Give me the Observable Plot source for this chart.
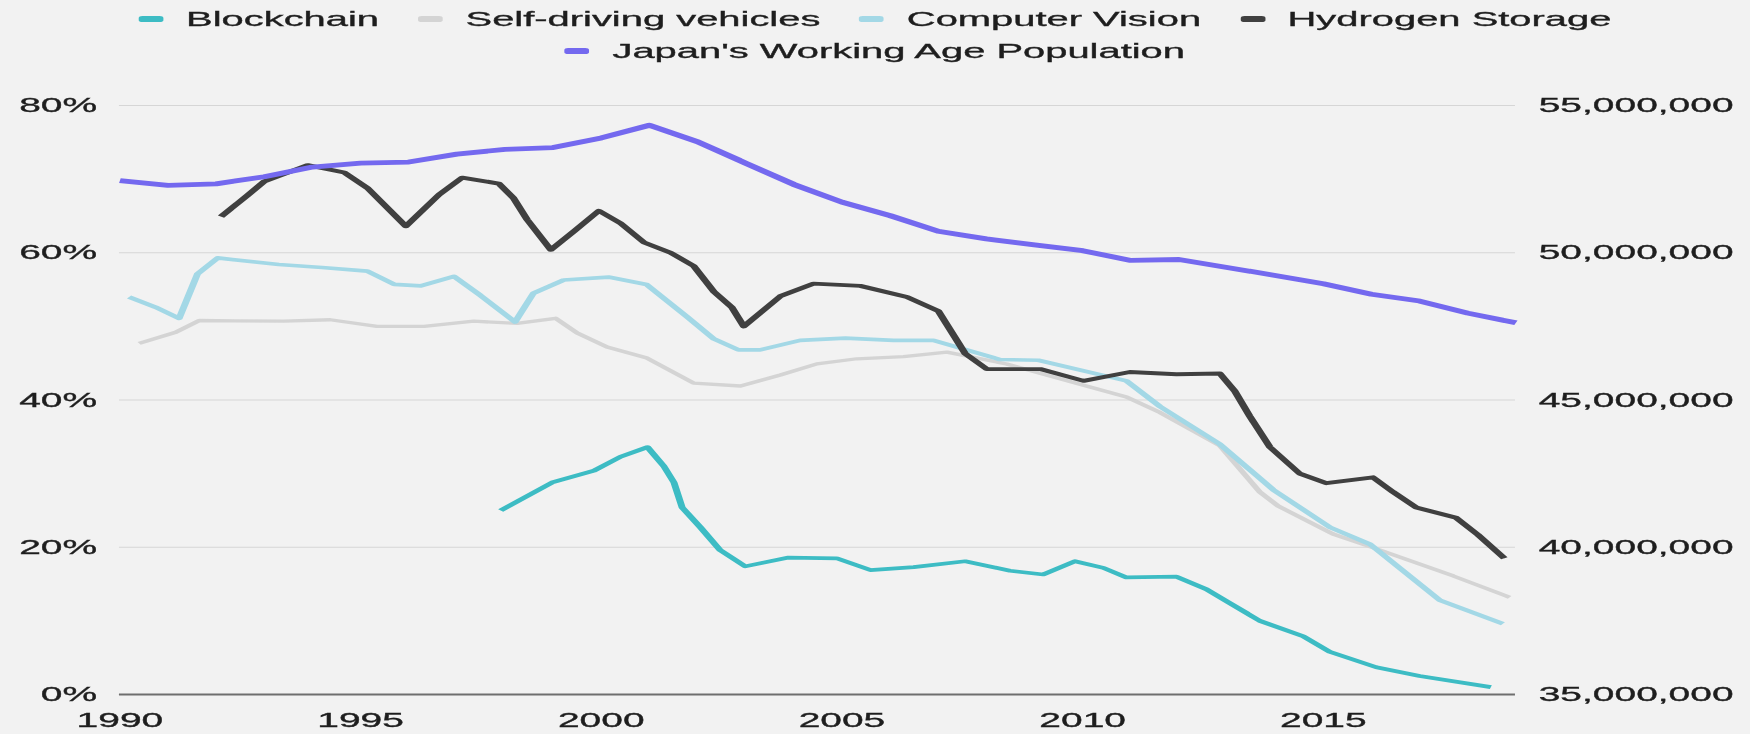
<!DOCTYPE html>
<html><head><meta charset="utf-8">
<script src="https://cdn.jsdelivr.net/npm/d3@7"></script>
<script src="https://cdn.jsdelivr.net/npm/@observablehq/plot@0.6"></script>
<style>
html,body{margin:0;padding:0;background:#f2f2f2;}
#wrap{width:921px;transform:scaleX(1.90011);transform-origin:0 0;font-family:"Liberation Sans",Arial,sans-serif;color:#1e1e1e;}
.legend{height:70px;box-sizing:border-box;padding-top:3px;}
.row{display:flex;justify-content:center;align-items:center;height:32px;font-size:21px;white-space:nowrap;-webkit-text-stroke:0.35px #1e1e1e;}
.item{display:flex;align-items:center;margin:0 10.25px;}
.sw{width:13px;height:6px;border-radius:2px;margin-right:12px;}
#chart svg text{stroke:#1e1e1e;stroke-width:0.35px;}
</style></head><body>
<div id="wrap"><div class="legend" id="legend"></div><div id="chart"></div></div>
<script>
// ---- data ----
const seriesNames = ["Blockchain", "Self-driving vehicles", "Computer Vision", "Hydrogen Storage", "Japan's Working Age Population"];
const seriesColors = ["#3dbcc4", "#d4d4d4", "#a3d8e6", "#404040", "#7469ef"];

const xTicks = [1990, 1995, 2000, 2005, 2010, 2015];
const yTicks = [0, 20, 40, 60, 80];
const popTicks = [35000000, 40000000, 45000000, 50000000, 55000000];

// [year, percent]
const blockchain = [
  [1997.91, 25.0], [1998.98, 28.8], [1999.85, 30.4], [2000.4, 32.3], [2000.96, 33.6],
  [2001.3, 31.0], [2001.51, 28.8], [2001.68, 25.4], [2002.06, 22.7], [2002.47, 19.6],
  [2002.99, 17.4], [2003.89, 18.6], [2004.89, 18.5], [2005.59, 16.9], [2006.49, 17.3],
  [2007.56, 18.1], [2008.49, 16.8], [2009.18, 16.3], [2009.84, 18.1], [2010.43, 17.2],
  [2010.91, 15.9], [2011.95, 16.0], [2012.57, 14.3], [2013.06, 12.4], [2013.68, 10.0],
  [2014.58, 7.9], [2015.13, 5.8], [2016.1, 3.7], [2017.0, 2.5], [2018.48, 1.0]
];
const selfDriving = [
  [1990.40, 47.7], [1991.16, 49.2], [1991.65, 50.8], [1993.41, 50.7], [1994.37, 50.9],
  [1995.34, 50.0], [1996.32, 50.0], [1997.35, 50.7], [1998.25, 50.4], [1999.05, 51.1],
  [1999.5, 49.1], [2000.12, 47.2], [2000.95, 45.7], [2001.92, 42.3], [2002.89, 41.9],
  [2003.72, 43.4], [2004.48, 44.9], [2005.31, 45.6], [2006.28, 45.9], [2007.18, 46.5],
  [2008.42, 44.9], [2010.02, 42.0], [2010.91, 40.4], [2011.61, 38.3], [2012.85, 33.8],
  [2013.68, 27.5], [2014.06, 25.6], [2015.2, 21.8], [2015.97, 20.1], [2017.7, 16.1],
  [2018.87, 13.2]
];
const computerVision = [
  [1990.19, 54.0], [1990.74, 52.6], [1991.23, 51.1], [1991.61, 57.1], [1992.03, 59.3],
  [1993.3, 58.4], [1994.2, 58.0], [1995.14, 57.5], [1995.7, 55.7], [1996.25, 55.5],
  [1996.94, 56.8], [1997.49, 54.2], [1998.21, 50.6], [1998.59, 54.5], [1999.22, 56.3],
  [2000.15, 56.7], [2000.94, 55.7], [2001.78, 51.3], [2002.34, 48.3], [2002.85, 46.8],
  [2003.3, 46.8], [2004.13, 48.1], [2005.07, 48.4], [2006.07, 48.1], [2006.9, 48.1],
  [2008.28, 45.5], [2009.08, 45.4], [2010.91, 42.6], [2011.61, 39.1], [2012.85, 34.0],
  [2013.96, 27.8], [2015.14, 22.7], [2015.97, 20.4], [2017.42, 12.8], [2018.73, 9.6]
];
const hydrogen = [
  [1992.1, 64.9], [1992.65, 67.8], [1993.0, 69.7], [1993.9, 71.9], [1994.66, 70.9],
  [1995.14, 68.8], [1995.94, 63.6], [1996.63, 67.9], [1997.11, 70.2], [1997.87, 69.4],
  [1998.18, 67.4], [1998.46, 64.5], [1998.95, 60.4], [1999.43, 62.9], [1999.95, 65.7],
  [2000.40, 64.0], [2000.89, 61.4], [2001.44, 60.0], [2001.92, 58.2], [2002.34, 54.7],
  [2002.71, 52.6], [2002.96, 50.0], [2003.72, 54.1], [2004.41, 55.8], [2005.38, 55.5],
  [2006.35, 54.0], [2007.0, 52.1], [2007.56, 46.3], [2008.01, 44.2], [2009.12, 44.2],
  [2010.02, 42.6], [2010.98, 43.8], [2011.95, 43.5], [2012.85, 43.6], [2013.16, 41.2],
  [2013.47, 37.8], [2013.89, 33.6], [2014.51, 30.0], [2015.06, 28.7], [2016.03, 29.5],
  [2016.45, 27.5], [2016.93, 25.4], [2017.76, 24.0], [2018.21, 21.7], [2018.76, 18.5]
];
// [year, people]
const japanPop = [
  [1990, 52450000], [1991, 52290000], [1992, 52340000], [1993, 52580000], [1994, 52910000],
  [1995, 53040000], [1996, 53080000], [1997, 53350000], [1998, 53510000], [1999, 53570000],
  [2000, 53900000], [2001, 54330000], [2002, 53770000], [2003, 53040000], [2004, 52320000],
  [2005, 51720000], [2006, 51260000], [2007, 50730000], [2008, 50470000], [2009, 50270000],
  [2010, 50070000], [2011, 49740000], [2012, 49770000], [2013, 49500000], [2014, 49230000],
  [2015, 48950000], [2016, 48590000], [2017, 48360000], [2018, 47950000], [2019, 47620000]
];

// secondary axis mapping: 35M..55M onto 0..80 %
const popToY = p => (p - 35000000) / 20000000 * 80;
const yToPop = v => 35000000 + v / 80 * 20000000;

// ---- legend ----
const legend = document.getElementById("legend");
[[0, 1, 2, 3], [4]].forEach(idxs => {
  const row = document.createElement("div");
  row.className = "row";
  idxs.forEach(i => {
    const item = document.createElement("div");
    item.className = "item";
    const sw = document.createElement("span");
    sw.className = "sw";
    sw.style.background = seriesColors[i];
    const t = document.createElement("span");
    t.textContent = seriesNames[i];
    item.append(sw, t);
    row.append(item);
  });
  legend.append(row);
});

// ---- chart ----
const font = "'Liberation Sans', Arial, sans-serif";
const chart = Plot.plot({
  width: 921,
  height: 664,
  marginLeft: 62.6,
  marginRight: 123.7,
  marginTop: 35,
  marginBottom: 40,
  style: {background: "#f2f2f2", fontFamily: font, fontSize: "20.5px", color: "#1e1e1e", overflow: "visible"},
  x: {domain: [1990, 2019], label: null},
  y: {domain: [0, 80], label: null},
  marks: [
    Plot.gridY(yTicks, {stroke: "#d6d6d6", strokeOpacity: 1, strokeWidth: 1.2}),
    Plot.ruleY([0], {stroke: "#6e6e6e", strokeWidth: 2}),
    Plot.axisX(xTicks, {tickSize: 0, tickPadding: 18, tickFormat: d => String(d), fontSize: 20.5}),
    Plot.axisY(yTicks, {anchor: "left", tickSize: 0, tickPadding: 12, tickFormat: d => d + "%", fontSize: 20.5}),
    Plot.axisY(popTicks.map(popToY), {anchor: "right", tickSize: 0, tickPadding: 12, tickFormat: v => d3.format(",")(Math.round(yToPop(v))), fontSize: 20.5}),
    Plot.line(blockchain, {x: d => d[0], y: d => d[1], stroke: seriesColors[0], strokeWidth: 3.7, strokeLinecap: "butt"}),
    Plot.line(selfDriving, {x: d => d[0], y: d => d[1], stroke: seriesColors[1], strokeWidth: 3.3, strokeLinecap: "butt"}),
    Plot.line(computerVision, {x: d => d[0], y: d => d[1], stroke: seriesColors[2], strokeWidth: 3.7, strokeLinecap: "butt"}),
    Plot.line(hydrogen, {x: d => d[0], y: d => d[1], stroke: seriesColors[3], strokeWidth: 3.9, strokeLinecap: "butt"}),
    Plot.line(japanPop, {x: d => d[0], y: d => popToY(d[1]), stroke: seriesColors[4], strokeWidth: 4.8, strokeLinecap: "butt"})
  ]
});
document.getElementById("chart").append(chart);
</script></body></html>
